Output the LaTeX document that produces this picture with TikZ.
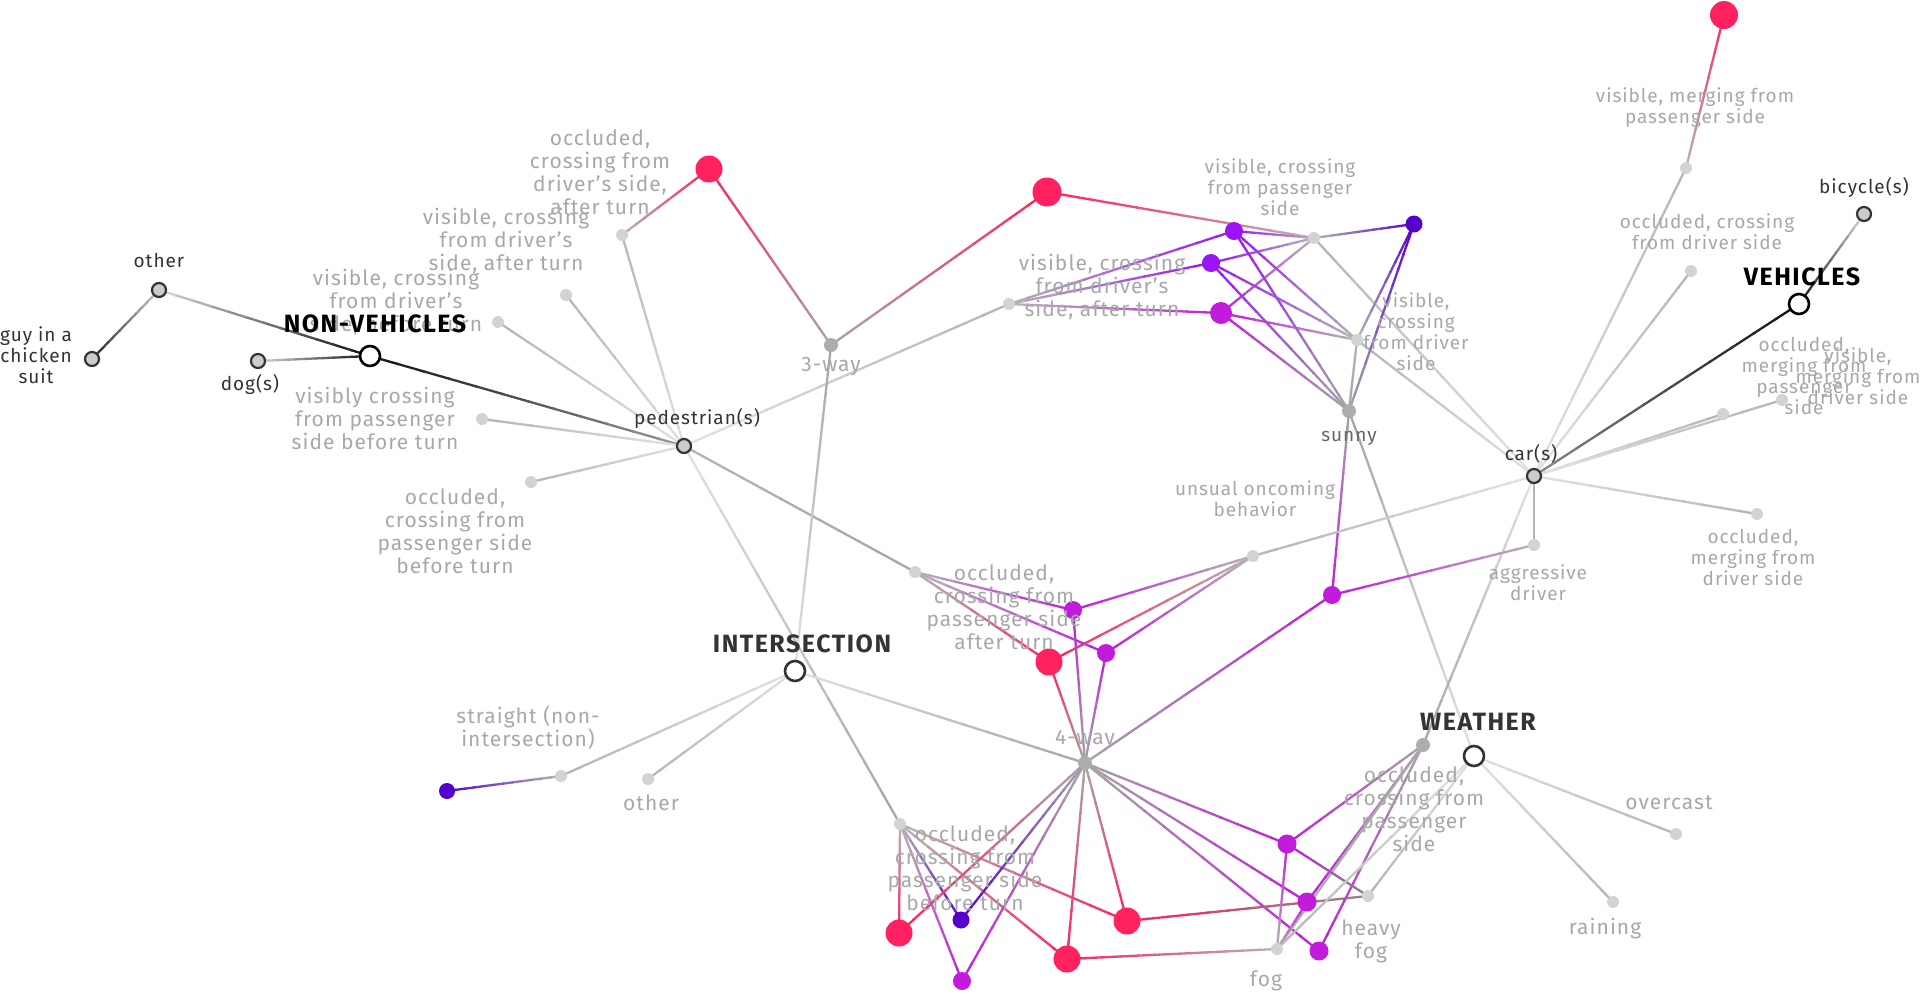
\documentclass[tikz,border=0pt]{standalone}
\usepackage{fontspec}
\newfontfamily\lf[LetterSpace=5]{Fira Sans}
\newfontfamily\hf[LetterSpace=6]{Fira Sans}
\usetikzlibrary{calc,backgrounds}
\definecolor{rd}{HTML}{FF2160}
\definecolor{vi}{HTML}{9B14F5}
\definecolor{mg}{HTML}{C21BDB}
\definecolor{dp}{HTML}{5500CC}
\definecolor{lg}{HTML}{D3D3D3}
\definecolor{mgy}{HTML}{ADADAD}
\definecolor{hubfill}{HTML}{CCCCCC}
\definecolor{dk}{HTML}{333333}
\definecolor{txt}{HTML}{A8A8A8}
\definecolor{sungray}{HTML}{666666}
\definecolor{eL}{HTML}{B5B5B5}
\definecolor{eM}{HTML}{A6A6A6}
\definecolor{eP}{HTML}{E2E2E2}
\definecolor{eK}{HTML}{111111}
\definecolor{eDL}{HTML}{DADADA}
\definecolor{eD}{HTML}{8A8A8A}
\definecolor{eG}{HTML}{9A9A9A}
\definecolor{eX}{HTML}{222222}
\tikzset{
  edge/.style={line width=2.3pt},
  leaf/.style={circle, fill=lg, minimum size=12pt, inner sep=0pt},
  mid/.style={circle, fill=mgy, minimum size=14pt, inner sep=0pt},
  sub/.style={circle, fill=hubfill, draw=dk, line width=2.2pt, minimum size=14pt, inner sep=0pt},
  hubk/.style={circle, fill=white, draw=black, line width=2.6pt, minimum size=20pt, inner sep=0pt},
  hubg/.style={circle, fill=white, draw=dk, line width=2.6pt, minimum size=20pt, inner sep=0pt},
  reddot/.style={circle, fill=rd, minimum size=27pt, inner sep=0pt},
  vdot/.style={circle, fill=vi, minimum size=18pt, inner sep=0pt},
  mdot/.style={circle, fill=mg, minimum size=18pt, inner sep=0pt},
  ddot/.style={circle, fill=dp, minimum size=17pt, inner sep=0pt},
  lab/.style={text=txt, font=\lf\fontsize{21}{23}\selectfont, align=center, inner sep=0pt},
  labs/.style={text=txt, font=\lf\fontsize{19}{21}\selectfont, align=center, inner sep=0pt},
  dlab/.style={text=dk, font=\lf\fontsize{19}{21}\selectfont, align=center, inner sep=0pt},
  hlab/.style={font=\hf\bfseries\fontsize{25}{28}\selectfont, inner sep=0pt},
}
\newcommand\gedge[4]{%
  \foreach \k in {0,...,11}{%
    \pgfmathsetmacro\tA{\k/12}%
    \pgfmathsetmacro\tB{min(1,(\k+1.1)/12)}%
    \pgfmathtruncatemacro\pc{(\k+0.5)*100/12}%
    \draw[edge,color=#4!\pc!#3] ($(#1.center)!\tA!(#2.center)$) -- ($(#1.center)!\tB!(#2.center)$);%
  }%
}
\begin{document}
\begin{tikzpicture}[x=1pt,y=-1pt]
\useasboundingbox (0,0) rectangle (1920,997);
% ---------- dots ----------
\node[hubk] (nv) at (370,356) {};
\node[sub] (guy) at (92,359) {};
\node[sub] (oth) at (159,290) {};
\node[sub] (dog) at (258,361) {};
\node[sub] (ped) at (684,446) {};
\node[mid] (w3) at (831,345) {};
\node[leaf] (l1) at (622,235) {};
\node[leaf] (l2) at (566,295) {};
\node[leaf] (l3) at (498,322) {};
\node[leaf] (l4) at (482,419) {};
\node[leaf] (l5) at (531,482) {};
\node[reddot] (r1) at (709,169) {};
\node[reddot, minimum size=29pt] (r2) at (1047,192) {};
\node[leaf] (vda) at (1009,304) {};
\node[leaf] (vcp) at (1314,238) {};
\node[vdot] (p1) at (1234,231) {};
\node[vdot] (p2) at (1211,263) {};
\node[mdot, minimum size=22pt] (p3) at (1221,313) {};
\node[ddot] (dp1) at (1414,224) {};
\node[leaf] (vcd) at (1357,340) {};
\node[mid] (sun) at (1349,411) {};
\node[leaf] (uob) at (1253,556) {};
\node[sub] (car) at (1534,476) {};
\node[leaf] (agg) at (1534,545) {};
\node[leaf] (omd) at (1757,514) {};
\node[leaf] (omp) at (1723,414) {};
\node[leaf] (vmd) at (1782,400) {};
\node[hubk] (veh) at (1799,304) {};
\node[sub] (bik) at (1864,214) {};
\node[leaf] (ocd) at (1691,271) {};
\node[leaf] (vmp) at (1686,168) {};
\node[reddot, minimum size=28pt] (r3) at (1724,15) {};
\node[mdot] (p4) at (1332,595) {};
\node[leaf] (opa) at (915,572) {};
\node[mdot] (p5) at (1073,610) {};
\node[mdot] (p6) at (1106,653) {};
\node[reddot] (r4) at (1049,662) {};
\node[hubg] (int) at (795,671) {};
\node[mid] (w4) at (1085,763) {};
\node[leaf] (str) at (561,776) {};
\node[ddot, minimum size=16pt] (dp2) at (447,791) {};
\node[leaf] (oth2) at (648,779) {};
\node[leaf] (opb) at (900,824) {};
\node[reddot] (r5) at (899,933) {};
\node[ddot] (dp3) at (961,920) {};
\node[mdot] (p7) at (962,981) {};
\node[reddot] (r6) at (1067,959) {};
\node[reddot] (r7) at (1127,921) {};
\node[hubg] (wea) at (1474,756) {};
\node[mid] (ops) at (1423,745) {};
\node[mdot, minimum size=19pt] (p8) at (1287,844) {};
\node[mdot, minimum size=19pt] (p9) at (1307,902) {};
\node[mdot, minimum size=19pt] (p10) at (1319,951) {};
\node[leaf] (hfog) at (1368,896) {};
\node[leaf] (fog) at (1277,949) {};
\node[leaf] (ovc) at (1676,834) {};
\node[leaf] (rai) at (1613,902) {};
% ---------- labels ----------
\node[lab] (l1-t) at (600,172) {occluded,\\crossing from\\driver’s side,\\after turn};
\node[lab] (l2-t) at (506,241) {visible, crossing\\from driver’s\\side, after turn};
\node[lab] (l3-t) at (396,302) {visible, crossing\\from driver’s\\side, before turn};
\node[lab] (l4-t) at (375,418) {visibly crossing\\from passenger\\side before turn};
\node[lab] (l5-t) at (455,531) {occluded,\\crossing from\\passenger side\\before turn};
\node[lab] (vda-t) at (1102,287) {visible, crossing\\from driver’s\\side, after turn};
\node[labs] (vcp-t) at (1280,187) {visible, crossing\\from passenger\\side};
\node[labs] (vcd-t) at (1416,332) {visible,\\crossing\\from driver\\side};
\node[labs] (uob-t) at (1255,499) {unsual oncoming\\behavior};
\node[labs] (agg-t) at (1538,583) {aggressive\\driver};
\node[labs] (omd-t) at (1753,557) {occluded,\\merging from\\driver side};
\node[labs] (omp-t) at (1804,376) {occluded,\\merging from\\passenger\\side};
\node[labs] (vmd-t) at (1858,376) {visible,\\merging from\\driver side};
\node[labs] (ocd-t) at (1707,232) {occluded, crossing\\from driver side};
\node[labs] (vmp-t) at (1695,108) {visible, merging from\\passenger side};
\node[lab] (opa-t) at (1004,607) {occluded,\\crossing from\\passenger side\\after turn};
\node[lab] (str-t) at (528,728) {straight (non-\\intersection)};
\node[lab] (opb-t) at (965,868) {occluded,\\crossing from\\passenger side\\before turn};
\node[lab] (ops-t) at (1414,809) {occluded,\\crossing from\\passenger\\side};
\node[lab] (hfog-t) at (1371,941) {heavy\\fog};
\node[lab] (fog-t) at (1266,981) {fog};
\node[lab] (ovc-t) at (1669,803) {overcast};
\node[lab] (rai-t) at (1605,929) {raining};
\node[lab] (oth2-t) at (651,803) {other};
\node[lab] (w3-t) at (831,367) {3-way};
\node[lab] (w4-t) at (1085,740) {4-way};
\node[dlab, text=sungray] (sun-t) at (1349,438) {sunny};
\node[dlab] (car-t) at (1531,454) {car(s)};
\node[dlab] (bik-t) at (1864,187) {bicycle(s)};
\node[dlab] (ped-t) at (697,418) {pedestrian(s)};
\node[dlab] (dog-t) at (250,384) {dog(s)};
\node[dlab] (oth-t) at (159,261) {other};
\node[dlab] (guy-t) at (36,355) {guy in a\\chicken\\suit};
\node[hlab, text=black] (nv-t) at (375,324) {NON-VEHICLES};
\node[hlab, text=black] (veh-t) at (1802,277) {VEHICLES};
\node[hlab, text=dk] (int-t) at (802,644) {INTERSECTION};
\node[hlab, text=dk] (wea-t) at (1478,722) {WEATHER};
% ---------- edges ----------
\begin{scope}[on background layer]
\fill[white] (0,0) rectangle (1920,997);
\gedge{nv}{oth}{eK}{eDL}
\gedge{nv}{dog}{eK}{eDL}
\gedge{nv}{ped}{eK}{eG}
\gedge{oth}{guy}{hubfill}{eX}
\gedge{ped}{l1}{eP}{eL}
\gedge{ped}{l2}{eP}{eL}
\gedge{ped}{l3}{eP}{eL}
\gedge{ped}{l4}{eP}{eL}
\gedge{ped}{l5}{eP}{eL}
\gedge{ped}{vda}{eP}{eL}
\gedge{ped}{opa}{eL}{eM}
\gedge{ped}{opb}{eP}{eM}
\gedge{r1}{l1}{rd}{eL}
\gedge{r1}{w3}{rd}{eM}
\gedge{r2}{w3}{rd}{eM}
\gedge{r2}{vcp}{rd}{eL}
\gedge{w3}{int}{eM}{eP}
\gedge{vda}{p1}{eL}{vi}
\gedge{vda}{p2}{eL}{vi}
\gedge{vda}{p3}{eL}{mg}
\gedge{vcp}{p1}{eL}{vi}
\gedge{vcp}{p2}{eL}{vi}
\gedge{vcp}{p3}{eL}{mg}
\gedge{vcp}{dp1}{eL}{dp}
\gedge{vcp}{car}{eL}{eP}
\gedge{vcd}{p1}{eL}{vi}
\gedge{vcd}{p2}{eL}{vi}
\gedge{vcd}{p3}{eL}{mg}
\gedge{vcd}{dp1}{eL}{dp}
\gedge{vcd}{sun}{eL}{eM}
\gedge{vcd}{car}{eL}{eP}
\gedge{sun}{p1}{eM}{vi}
\gedge{sun}{p2}{eM}{vi}
\gedge{sun}{p3}{eM}{mg}
\gedge{sun}{dp1}{eM}{dp}
\gedge{sun}{p4}{eM}{mg}
\gedge{sun}{wea}{eM}{eP}
\gedge{veh}{car}{eK}{eD}
\gedge{veh}{bik}{eK}{eDL}
\gedge{car}{vmp}{eP}{eL}
\gedge{vmp}{r3}{eL}{rd}
\gedge{car}{ocd}{eP}{eL}
\gedge{car}{omp}{eP}{eL}
\gedge{car}{vmd}{eP}{eL}
\gedge{car}{omd}{eP}{eL}
\gedge{car}{agg}{eL}{eL}
\gedge{car}{uob}{eP}{eL}
\gedge{car}{ops}{eP}{eM}
\gedge{agg}{p4}{eL}{mg}
\gedge{p4}{w4}{mg}{eM}
\gedge{uob}{p5}{eL}{mg}
\gedge{uob}{p6}{eL}{mg}
\gedge{uob}{r4}{eL}{rd}
\gedge{opa}{p5}{eL}{mg}
\gedge{opa}{p6}{eL}{mg}
\gedge{opa}{r4}{eL}{rd}
\gedge{w4}{p5}{eM}{mg}
\gedge{w4}{p6}{eM}{mg}
\gedge{w4}{r4}{eM}{rd}
\gedge{w4}{int}{eM}{eP}
\gedge{int}{str}{eP}{eL}
\gedge{int}{oth2}{eP}{eL}
\gedge{str}{dp2}{eL}{dp}
\gedge{opb}{r5}{eL}{rd}
\gedge{opb}{dp3}{eL}{dp}
\gedge{opb}{p7}{eL}{mg}
\gedge{opb}{r6}{eL}{rd}
\gedge{opb}{r7}{eL}{rd}
\gedge{w4}{r5}{eM}{rd}
\gedge{w4}{dp3}{eM}{dp}
\gedge{w4}{p7}{eM}{mg}
\gedge{w4}{r6}{eM}{rd}
\gedge{w4}{r7}{eM}{rd}
\gedge{w4}{p8}{eM}{mg}
\gedge{w4}{p9}{eM}{mg}
\gedge{w4}{p10}{eM}{mg}
\gedge{r6}{fog}{rd}{eL}
\gedge{r7}{hfog}{rd}{eD}
\gedge{ops}{p8}{eM}{mg}
\gedge{ops}{p9}{eM}{mg}
\gedge{ops}{p10}{eM}{mg}
\gedge{ops}{fog}{eM}{eL}
\gedge{p8}{hfog}{mg}{eD}
\gedge{p8}{fog}{mg}{eL}
\gedge{p9}{fog}{mg}{eL}
\gedge{wea}{fog}{eP}{eL}
\gedge{wea}{hfog}{eP}{eL}
\gedge{wea}{ovc}{eP}{eL}
\gedge{wea}{rai}{eP}{eL}
\end{scope}
\end{tikzpicture}
\end{document}
